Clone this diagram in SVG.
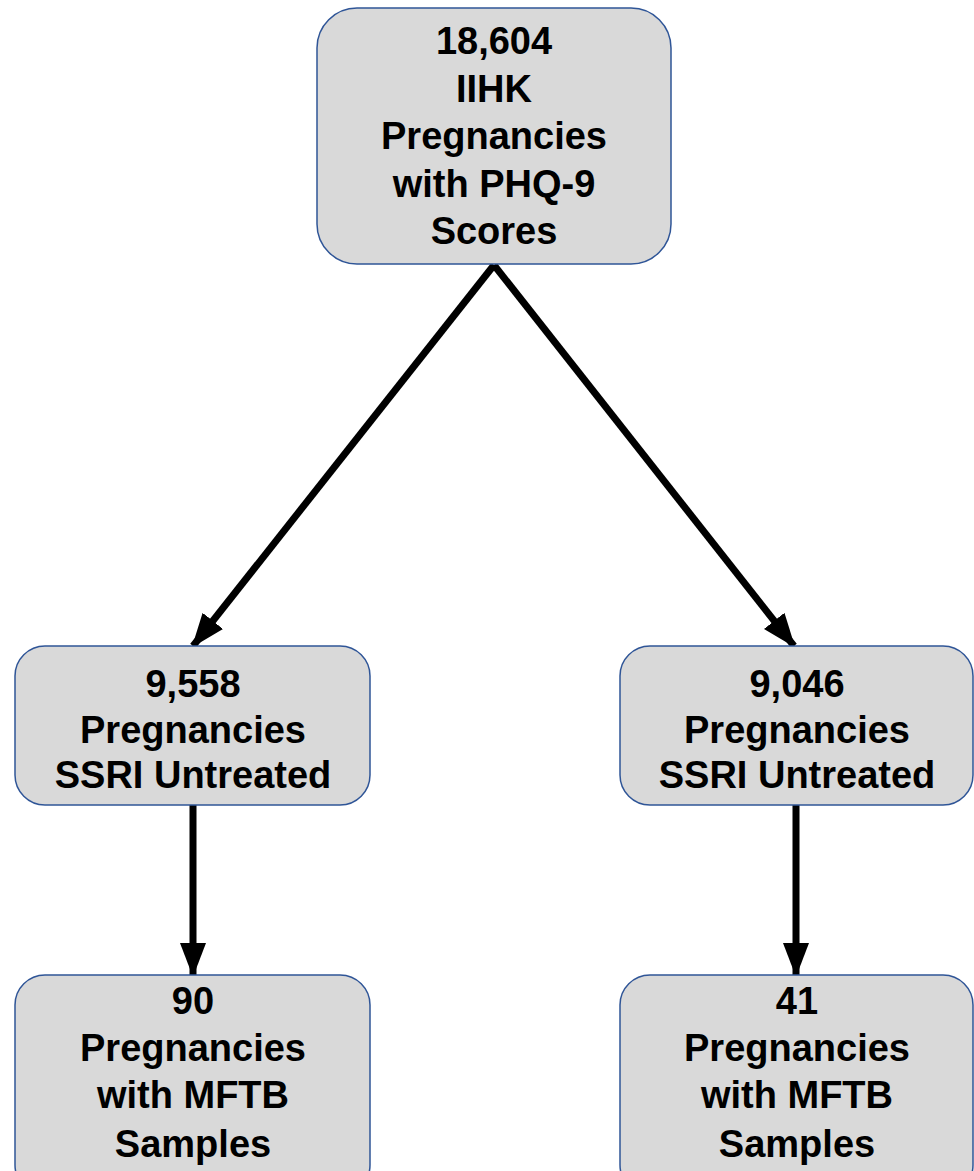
<svg xmlns="http://www.w3.org/2000/svg" width="974" height="1171" viewBox="0 0 974 1171">
<defs>
<style>
.box{fill:#d9d9d9;stroke:#2f5597;stroke-width:1.5}
.t{font-family:"Liberation Sans",Arial,sans-serif;font-weight:bold;font-size:38px;fill:#000;text-anchor:middle}
.c{stroke:#000;stroke-width:7;fill:none}
</style>
<marker id="ah" markerUnits="userSpaceOnUse" markerWidth="34" markerHeight="30" viewBox="0 0 34 30" refX="32" refY="15" orient="auto">
<path d="M0,2 L34,15 L0,28 Z" fill="#000"/>
</marker>
</defs>
<rect width="974" height="1171" fill="#fff"/>
<g id="connectors">
<line class="c" x1="494" y1="265" x2="193" y2="646" marker-end="url(#ah)"/>
<line class="c" x1="494" y1="265" x2="794" y2="646" marker-end="url(#ah)"/>
<line class="c" x1="193" y1="805" x2="193" y2="975" marker-end="url(#ah)"/>
<line class="c" x1="796" y1="805" x2="796" y2="975" marker-end="url(#ah)"/>
</g>
<g id="n0">
<rect class="box" x="317" y="8" width="354" height="256" rx="40"/>
<text class="t" x="494" y="54">18,604</text>
<text class="t" x="494" y="102">IIHK</text>
<text class="t" x="494" y="149">Pregnancies</text>
<text class="t" x="494" y="197">with PHQ-9</text>
<text class="t" x="494" y="244">Scores</text>
</g>
<g id="n1">
<rect class="box" x="15" y="646" width="355" height="159" rx="30"/>
<text class="t" x="193" y="697">9,558</text>
<text class="t" x="193" y="743">Pregnancies</text>
<text class="t" x="193" y="788">SSRI Untreated</text>
</g>
<g id="n2">
<rect class="box" x="620" y="646" width="353" height="159" rx="30"/>
<text class="t" x="797" y="697">9,046</text>
<text class="t" x="797" y="743">Pregnancies</text>
<text class="t" x="797" y="788">SSRI Untreated</text>
</g>
<g id="n3">
<rect class="box" x="15" y="975" width="355" height="220" rx="30"/>
<text class="t" x="193" y="1014">90</text>
<text class="t" x="193" y="1061">Pregnancies</text>
<text class="t" x="193" y="1108">with MFTB</text>
<text class="t" x="193" y="1157">Samples</text>
</g>
<g id="n4">
<rect class="box" x="620" y="975" width="353" height="220" rx="30"/>
<text class="t" x="797" y="1014">41</text>
<text class="t" x="797" y="1061">Pregnancies</text>
<text class="t" x="797" y="1108">with MFTB</text>
<text class="t" x="797" y="1157">Samples</text>
</g>
</svg>
